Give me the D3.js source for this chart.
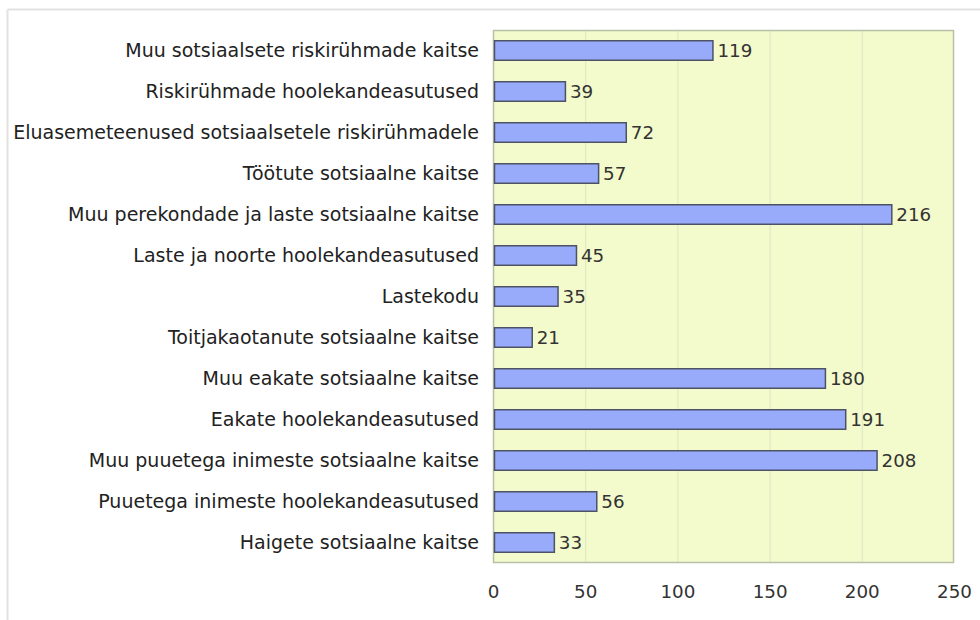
<!DOCTYPE html>
<html><head><meta charset="utf-8">
<script src="https://cdn.jsdelivr.net/npm/d3@7"></script>
<style>body{margin:0;background:#fff;font-family:"DejaVu Sans",Verdana,sans-serif;}</style>
</head><body>
<svg id="c" width="980" height="620"></svg>
<script>
const categories = [
  "Muu sotsiaalsete riskirühmade kaitse",
  "Riskirühmade hoolekandeasutused",
  "Eluasemeteenused sotsiaalsetele riskirühmadele",
  "Töötute sotsiaalne kaitse",
  "Muu perekondade ja laste sotsiaalne kaitse",
  "Laste ja noorte hoolekandeasutused",
  "Lastekodu",
  "Toitjakaotanute sotsiaalne kaitse",
  "Muu eakate sotsiaalne kaitse",
  "Eakate hoolekandeasutused",
  "Muu puuetega inimeste sotsiaalne kaitse",
  "Puuetega inimeste hoolekandeasutused",
  "Haigete sotsiaalne kaitse"
];
const values = [119, 39, 72, 57, 216, 45, 35, 21, 180, 191, 208, 56, 33];
const ticks = [0, 50, 100, 150, 200, 250];

const svg = d3.select("#c");
const L = 493, R = 954, T = 30, B = 563;
const FS = 18.3, FL = 19;

// outer frame
svg.append("line").attr("x1",7.5).attr("x2",980).attr("y1",9.5).attr("y2",9.5).attr("stroke","#e2e2e2").attr("stroke-width",2);
svg.append("line").attr("x1",7.5).attr("x2",7.5).attr("y1",9.5).attr("y2",620).attr("stroke","#e2e2e2").attr("stroke-width",2);

const x = d3.scaleLinear().domain([0, 250]).range([L, R]);
const y = d3.scaleBand().domain(categories).range([T, B]).paddingInner(0.5).paddingOuter(0.25);

svg.append("rect").attr("x",L).attr("y",T).attr("width",R-L).attr("height",B-T).attr("fill","#f3facb");

// gridlines
svg.append("g").selectAll("line").data(ticks.slice(1,-1)).join("line")
  .attr("x1",d=>x(d)+0.5).attr("x2",d=>x(d)+0.5).attr("y1",T).attr("y2",B)
  .attr("stroke","#e0e6c4").attr("stroke-width",1);

svg.append("rect").attr("x",L+0.5).attr("y",T+0.5).attr("width",R-L-1).attr("height",B-T-1)
  .attr("fill","none").attr("stroke","#b9c0a8").attr("stroke-width",1.5);

// bars
svg.append("g").selectAll("rect").data(values).join("rect")
  .attr("x", x(0)+1.5).attr("y",(d,i)=>y(categories[i])+0.5)
  .attr("width",d=>x(d)-x(0)-1).attr("height",y.bandwidth()-1)
  .attr("fill","#98abfa").attr("stroke","#4d5266").attr("stroke-width",1.5);

// value labels
svg.append("g").selectAll("text").data(values).join("text")
  .attr("x",d=>x(d)+5).attr("y",(d,i)=>y(categories[i])+y.bandwidth()/2)
  .attr("dy","0.36em").attr("font-size",FS).attr("fill","#333")
  .text(d=>d);

// category axis labels
svg.append("g").selectAll("text").data(categories).join("text")
  .attr("x",479).attr("y",d=>y(d)+y.bandwidth()/2).attr("dy","0.36em")
  .attr("text-anchor","end").attr("font-size",FL).attr("fill","#222")
  .text(d=>d);

// x axis
const xa = svg.append("g").attr("transform",`translate(0,${B+22})`)
  .call(d3.axisBottom(x).tickValues(ticks).tickSize(0).tickPadding(0));
xa.select(".domain").remove();
xa.selectAll("text").attr("font-size",FS).attr("fill","#333").attr("font-family","DejaVu Sans, Verdana, sans-serif");
</script>
</body></html>
